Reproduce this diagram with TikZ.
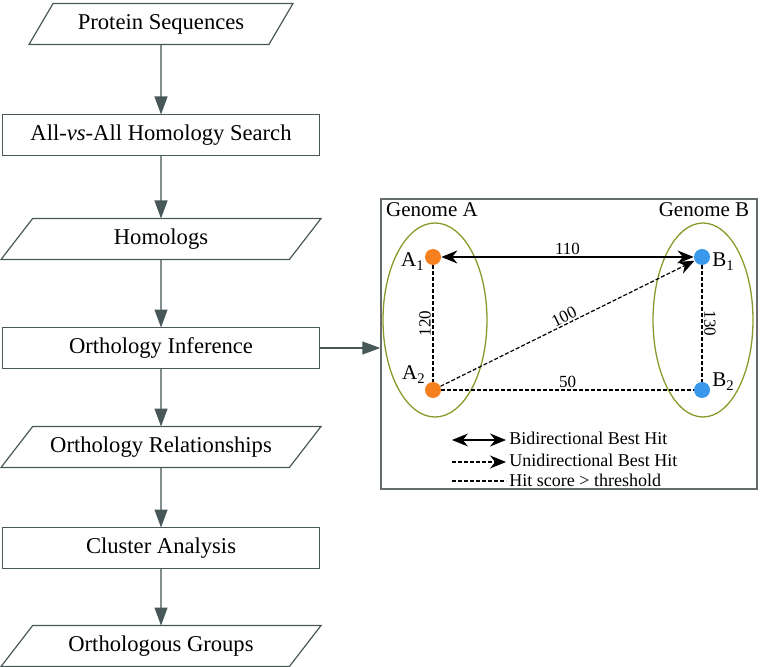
\documentclass[tikz,border=0pt]{standalone}
\usepackage{fontspec}
\setmainfont{Liberation Serif}
\usetikzlibrary{arrows.meta}
\usetikzlibrary{shapes.geometric}
\usetikzlibrary{positioning}
\definecolor{flowgray}{RGB}{72,88,88}
\definecolor{framegray}{RGB}{100,108,108}
\definecolor{genomegreen}{RGB}{138,154,42}
\definecolor{geneorange}{RGB}{247,128,30}
\definecolor{geneblue}{RGB}{58,152,236}

\begin{document}
\begin{tikzpicture}[x=0.5pt, y=-0.5pt, >={Triangle[length=9pt,width=6.5pt]}, font=\fontsize{11.3}{13}\selectfont]
    \tikzstyle{block} = [draw=flowgray, line width=0.6pt, rectangle, minimum width=158.5pt, minimum height=20.5pt, inner sep=0pt, outer sep=0pt];
    \tikzstyle{io} = [draw=flowgray, line width=0.6pt, trapezium, trapezium left angle=33, trapezium right angle=147, trapezium stretches body, minimum width=160pt, minimum height=20.5pt, inner sep=0pt, outer sep=0pt];
    \tikzstyle{flow} = [->, draw=flowgray, fill=flowgray, line width=0.6pt];
    \tikzstyle{genome} = [draw=genomegreen, line width=0.65pt, ellipse, inner sep=0pt];
    \tikzstyle{gene} = [circle, minimum size=8pt, inner sep=0pt];
    \tikzstyle{glabel} = [font=\fontsize{10.5}{12}\selectfont, inner sep=0pt];
    \tikzstyle{num} = [font=\fontsize{8.5}{10}\selectfont, inner sep=0.8pt];
    \tikzstyle{hit} = [line width=0.6pt, dash pattern=on 2pt off 1pt];
    \tikzstyle{bidir} = [{Stealth[length=8pt,width=6.5pt]}-{Stealth[length=8pt,width=6.5pt]}, line width=0.6pt];
    \tikzstyle{unidir} = [hit, -{Stealth[length=8pt,width=6.5pt]}];
    \tikzstyle{legtxt} = [font=\fontsize{9}{10}\selectfont, anchor=base west, inner sep=1.5pt];
    \useasboundingbox (0,0) rectangle (760,667);

    % flowchart
    \node [io, trapezium left angle=39.4, trapezium right angle=140.6, minimum width=132pt] (seq) at (161,24) {Protein Sequences};
    \node [block, below=35pt of seq] (search) {All-\textit{vs}-All Homology Search};
    \node [io, below=31.5pt of search] (hom) {Homologs};
    \node [block, below=34pt of hom] (infer) {Orthology Inference};
    \node [io, below=29pt of infer] (rel) {Orthology Relationships};
    \node [block, below=30pt of rel] (clust) {Cluster Analysis};
    \node [io, below=28.5pt of clust] (groups) {Orthologous Groups};
    \draw [flow] (seq) -- (search);
    \draw [flow] (search) -- (hom);
    \draw [flow] (hom) -- (infer);
    \draw [flow] (infer) -- (rel);
    \draw [flow] (rel) -- (clust);
    \draw [flow] (clust) -- (groups);

    % orthology panel
    \node [draw=framegray, line width=0.75pt, minimum width=188pt, minimum height=145pt, inner sep=0pt] (panel) at (569,344) {};
    \draw [flow] (infer.east) -- (infer.east -| panel.west);
    \node [genome, minimum width=52pt, minimum height=97pt] (gena) at (435,320) {};
    \node [genome, minimum width=50pt, minimum height=97pt] (genb) at (703,320) {};
    \node [glabel] (ganame) at (432,210) {Genome A};
    \node [glabel] (gbname) at (704,210) {Genome B};
    \node [gene, fill=geneorange] (a1) at (433,257) {};
    \node [gene, fill=geneorange] (a2) at (433,390) {};
    \node [gene, fill=geneblue] (b1) at (702,257) {};
    \node [gene, fill=geneblue] (b2) at (702,390) {};
    \node [glabel, anchor=base east] (a1name) at (425,267) {A\textsubscript{1}};
    \node [glabel, anchor=base east] (a2name) at (426,380) {A\textsubscript{2}};
    \node [glabel, anchor=base west] (b1name) at (712,267) {B\textsubscript{1}};
    \node [glabel, anchor=base west] (b2name) at (712,387) {B\textsubscript{2}};
    \draw [hit] (a1) -- node [num, rotate=90, anchor=south] (s120) {120} (a2);
    \draw [hit] (b1) -- node [num, rotate=-90, anchor=south] (s130) {130} (b2);
    \draw [hit] (a2) -- node [num, above] (s50) {50} (b2);
    \draw [unidir] (a2) -- node [num, sloped, above] (s100) {100} (b1);
    \draw [bidir] (a1) -- node [num, above] (s110) {110} (b1);

    % legend
    \node [legtxt] (leg1) at (506,445) {Bidirectional Best Hit};
    \node [legtxt] (leg2) at (506,467) {Unidirectional Best Hit};
    \node [legtxt] (leg3) at (506,487) {Hit score > threshold};
    \coordinate (k1) at (452,440);
    \coordinate (k2) at (452,462);
    \coordinate (k3) at (452,481);
    \draw [bidir] (k1) -- (k1 -| leg1.west);
    \draw [unidir] (k2) -- (k2 -| leg2.west);
    \draw [hit] (k3) -- (k3 -| leg3.west);
\end{tikzpicture}
\end{document}
